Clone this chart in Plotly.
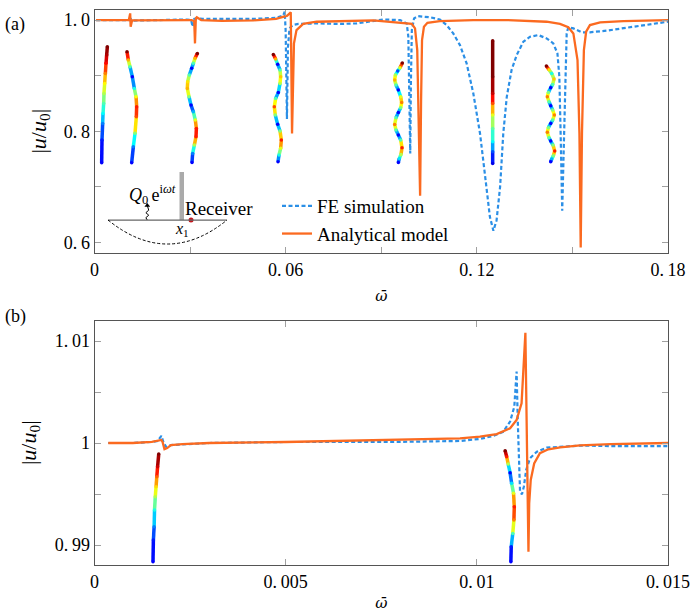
import plotly.graph_objects as go
from plotly.colors import sample_colorscale

# panel (a): frequency sweep
fe_a_x = [0.0005, 0.010, 0.0112, 0.0114, 0.0118, 0.029, 0.0303, 0.0308, 0.0313, 0.032, 0.034, 0.05, 0.057, 0.0592, 0.0597, 0.0600, 0.0604, 0.0607, 0.0612, 0.0622, 0.064, 0.07,
          0.0771, 0.0823, 0.0875, 0.0907, 0.0959, 0.0980, 0.0985, 0.0988, 0.0991, 0.0993, 0.0996, 0.1003, 0.1016, 0.1053, 0.1084, 0.1105, 0.1126, 0.1147, 0.1168, 0.1189, 0.1210,
          0.1225, 0.1241, 0.1252, 0.1262, 0.1273, 0.1283, 0.1294, 0.1309, 0.1325, 0.1346, 0.1367, 0.1393, 0.1419, 0.1440, 0.1453, 0.1459, 0.1463, 0.1468, 0.1474, 0.1479, 0.1482,
          0.1487, 0.1503, 0.1529, 0.1555, 0.1608, 0.1712, 0.1800]
fe_a_y = [1.000, 1.000, 1.000, 1.002, 0.999, 1.001, 1.000, 0.988, 1.002, 1.003, 1.002, 1.002, 1.004, 1.008, 1.015, 0.980, 0.822, 0.950, 0.985, 0.991, 0.993, 0.994,
          0.993, 0.994, 0.999, 1.001, 1.000, 0.994, 0.970, 0.856, 0.760, 0.886, 0.982, 1.003, 1.007, 1.005, 1.001, 0.991, 0.976, 0.955, 0.922, 0.868, 0.796,
          0.724, 0.646, 0.621, 0.640, 0.700, 0.796, 0.862, 0.910, 0.937, 0.961, 0.970, 0.973, 0.967, 0.958, 0.940, 0.898, 0.796, 0.657, 0.796, 0.916, 0.976,
          0.987, 0.985, 0.978, 0.978, 0.981, 0.989, 0.997]
an_a_x = [0.0005, 0.0108, 0.0112, 0.01135, 0.0118, 0.03, 0.0305, 0.0313, 0.03154, 0.0318, 0.0321, 0.0335, 0.04, 0.05, 0.057, 0.0605, 0.0616, 0.0620, 0.0626, 0.0634, 0.0655, 0.0697, 0.0802,
          0.0875, 0.0996, 0.1006, 0.1013, 0.1017, 0.1022, 0.1025, 0.1028, 0.1034, 0.1045, 0.1084, 0.1189, 0.1294, 0.1419, 0.1461, 0.1487, 0.1503, 0.1516, 0.1522, 0.1526, 0.1530,
          0.1536, 0.1543, 0.1555, 0.1587, 0.1660, 0.1800]
an_a_y = [1.000, 1.0005, 1.012, 0.988, 0.9995, 0.9995, 1.000, 0.998, 0.958, 1.003, 1.005, 1.000, 0.9985, 0.9995, 1.002, 1.008, 1.014, 0.796, 0.958, 0.982, 0.993, 0.997, 0.999,
          0.9994, 0.993, 0.985, 0.946, 0.826, 0.684, 0.856, 0.964, 0.988, 0.995, 0.998, 1.000, 1.000, 0.997, 0.993, 0.987, 0.976, 0.928, 0.796, 0.591, 0.796,
          0.946, 0.979, 0.991, 0.996, 0.998, 1.000]

# panel (b): close-up of the first resonances
fe_b_x = [0.00036, 0.001, 0.0015, 0.00165, 0.00175, 0.00181, 0.00188, 0.0020, 0.003, 0.005, 0.0078, 0.00956, 0.01008, 0.01043, 0.01069, 0.01087, 0.01098, 0.01104, 0.01107, 0.0111,
          0.01113, 0.01118, 0.01123, 0.01129, 0.01139, 0.01157, 0.01183, 0.0127, 0.0135, 0.015]
fe_b_y = [1.0000, 1.0000, 1.0001, 1.0002, 1.0007, 1.0000, 0.9996, 0.9998, 1.0000, 1.0001, 1.0001, 1.0002, 1.0004, 1.00069, 1.0011, 1.0021, 1.00356, 1.0070, 1.00225, 0.99833,
          0.99523, 0.99497, 0.99572, 0.99735, 0.9985, 0.99915, 0.99954, 0.99975, 0.9997, 0.9997]
an_b_x = [0.00036, 0.001, 0.0015, 0.00165, 0.00175, 0.00178, 0.00183, 0.0019, 0.0020, 0.0023, 0.003, 0.005, 0.0078, 0.00956, 0.01008, 0.01052, 0.01087, 0.01104, 0.01117, 0.01123,
          0.01127, 0.01129, 0.01132, 0.01135, 0.01137, 0.01141, 0.0115, 0.01165, 0.01187, 0.01218, 0.0127, 0.0135, 0.015]
an_b_y = [1.0000, 1.0000, 1.0001, 1.0002, 1.0003, 1.0001, 0.9994, 0.9995, 0.9998, 0.9999, 1.0000, 1.0001, 1.0003, 1.00046, 1.00062, 1.00088, 1.00144, 1.00225, 1.0039, 1.0081,
          1.0108, 1.0055, 0.9990, 0.98934, 0.9941, 0.99637, 0.9980, 0.9990, 0.99938, 0.99958, 0.99977, 0.9999, 1.0000]

# mode shapes, (x, y, colour value on jet)
mode1_x = [0.00225, 0.00235, 0.00256, 0.00267, 0.00288, 0.00298, 0.00319, 0.00340, 0.00361, 0.00382, 0.00403]
mode1_y = [0.7434, 0.7842, 0.8141, 0.8321, 0.8501, 0.8681, 0.8861, 0.9041, 0.9221, 0.9371, 0.9520]
mode1_c = [0.12, 0.15, 0.25, 0.375, 0.45, 0.55, 0.63, 0.75, 0.87, 0.95, 1.0]
mode2_x = [0.01167, 0.01219, 0.01271, 0.01313, 0.01323, 0.01303, 0.01250, 0.01187, 0.01114, 0.01062, 0.01020]
mode2_y = [0.7434, 0.7722, 0.7962, 0.8261, 0.8441, 0.8621, 0.8771, 0.8981, 0.9161, 0.9281, 0.9430]
mode2_c = [0.125, 0.25, 0.5, 0.8, 0.85, 0.62, 0.4, 0.125, 0.45, 0.7, 1.0]
mode3_x = [0.03228, 0.03155, 0.03102, 0.03050, 0.02976, 0.02924, 0.02914, 0.02966, 0.03029, 0.03102, 0.03165, 0.03197, 0.03186, 0.03134, 0.03081, 0.03060]
mode3_y = [0.9400, 0.9311, 0.9221, 0.9131, 0.9011, 0.8891, 0.8771, 0.8621, 0.8471, 0.8351, 0.8201, 0.8051, 0.7902, 0.7752, 0.7602, 0.7440]
mode3_c = [1.0, 0.7, 0.45, 0.125, 0.45, 0.65, 0.7, 0.5, 0.125, 0.3, 0.6, 0.85, 0.85, 0.55, 0.25, 0.125]
mode4_x = [0.05613, 0.05686, 0.05749, 0.05823, 0.05843, 0.05823, 0.05770, 0.05686, 0.05644, 0.05675, 0.05749, 0.05823, 0.05864, 0.05843, 0.05791, 0.05760]
mode4_y = [0.9382, 0.9299, 0.9203, 0.9101, 0.8981, 0.8861, 0.8699, 0.8591, 0.8441, 0.8291, 0.8124, 0.8004, 0.7842, 0.7692, 0.7572, 0.7452]
mode4_c = [1.0, 0.7, 0.125, 0.45, 0.68, 0.55, 0.125, 0.45, 0.8, 0.5, 0.125, 0.5, 0.85, 0.6, 0.4, 0.125]
mode5_x = [0.09662, 0.09589, 0.09516, 0.09443, 0.09422, 0.09463, 0.09537, 0.09610, 0.09641, 0.09610, 0.09537, 0.09463, 0.09422, 0.09463, 0.09537, 0.09610, 0.09652, 0.09620, 0.09568, 0.09537]
mode5_y = [0.9227, 0.9143, 0.9083, 0.9011, 0.8921, 0.8831, 0.8741, 0.8621, 0.8519, 0.8423, 0.8339, 0.8243, 0.8123, 0.8022, 0.7932, 0.7842, 0.7704, 0.7584, 0.7512, 0.7440]
mode5_c = [1.0, 0.6, 0.2, 0.55, 0.7, 0.45, 0.125, 0.6, 0.75, 0.5, 0.125, 0.45, 0.75, 0.45, 0.125, 0.45, 0.85, 0.55, 0.35, 0.125]
mode6_x = [0.12497, 0.12497, 0.12497, 0.12497, 0.12497, 0.12497, 0.12497, 0.12497, 0.12497]
mode6_y = [0.7422, 0.7632, 0.7812, 0.8051, 0.8291, 0.8501, 0.8681, 0.8981, 0.9628]
mode6_c = [0.1, 0.2, 0.37, 0.47, 0.6, 0.8, 0.93, 1.0, 1.0]
mode7_x = [0.14182, 0.14266, 0.14350, 0.14423, 0.14381, 0.14318, 0.14245, 0.14213, 0.14266, 0.14318, 0.14381, 0.14433, 0.14381, 0.14318, 0.14245, 0.14213, 0.14266, 0.14318, 0.14391, 0.14444, 0.14402, 0.14350, 0.14318]
mode7_y = [0.9173, 0.9107, 0.9041, 0.8939, 0.8843, 0.8783, 0.8699, 0.8621, 0.8531, 0.8459, 0.8381, 0.8291, 0.8201, 0.8141, 0.8064, 0.7980, 0.7884, 0.7824, 0.7752, 0.7644, 0.7560, 0.7500, 0.7452]
mode7_c = [1.0, 0.65, 0.4, 0.68, 0.45, 0.125, 0.5, 0.75, 0.45, 0.125, 0.5, 0.75, 0.45, 0.125, 0.5, 0.75, 0.45, 0.125, 0.5, 0.85, 0.5, 0.3, 0.125]

modeb1_x = [0.00153, 0.00154, 0.00156, 0.00157, 0.00159, 0.00161, 0.00163, 0.00165, 0.00168]
modeb1_y = [0.98837, 0.99049, 0.99180, 0.99343, 0.99474, 0.99572, 0.99670, 0.99768, 0.99892]
modeb1_c = [0.125, 0.15, 0.25, 0.4, 0.55, 0.66, 0.78, 0.92, 1.0]
modeb2_x = [0.01074, 0.01078, 0.01082, 0.01087, 0.01091, 0.01096, 0.01098, 0.01097, 0.01094, 0.01090, 0.01089]
modeb2_y = [0.99925, 0.99866, 0.99794, 0.99709, 0.99605, 0.99507, 0.99376, 0.99245, 0.99114, 0.98984, 0.98837]
modeb2_c = [1.0, 0.85, 0.55, 0.125, 0.35, 0.6, 0.85, 0.75, 0.45, 0.15, 0.125]

# little sketch of the plate in panel (a)
squiggle_x = [0.01657, 0.01612, 0.01702, 0.01612, 0.01702, 0.01657]
squiggle_y = [0.6403, 0.6445, 0.6490, 0.6535, 0.6580, 0.6665]

BLUE = "#2b8fe6"
ORANGE = "#fb6a20"
FONT = "Liberation Serif"
JET = [[0, "rgb(0,0,143)"], [0.125, "rgb(0,0,255)"], [0.375, "rgb(0,255,255)"],
       [0.625, "rgb(255,255,0)"], [0.875, "rgb(255,0,0)"], [1, "rgb(128,0,0)"]]


def add_mode(fig, xs, ys, cs, xaxis, yaxis, width=3.5):
    # one trace per segment, plotly has no gradient line
    for i in range(len(xs) - 1):
        col = sample_colorscale(JET, (cs[i] + cs[i + 1]) / 2)[0]
        fig.add_trace(go.Scatter(x=xs[i:i + 2], y=ys[i:i + 2], mode="lines", xaxis=xaxis, yaxis=yaxis,
                                 line=dict(color=col, width=width), showlegend=False, hoverinfo="skip"))
    fig.add_trace(go.Scatter(x=xs, y=ys, mode="markers", xaxis=xaxis, yaxis=yaxis, showlegend=False, hoverinfo="skip",
                             marker=dict(size=width, color=cs, colorscale=JET, cmin=0, cmax=1, line=dict(width=0))))


fig = go.Figure()

for xs, ys, cs in [(mode1_x, mode1_y, mode1_c), (mode2_x, mode2_y, mode2_c), (mode3_x, mode3_y, mode3_c),
                   (mode4_x, mode4_y, mode4_c), (mode5_x, mode5_y, mode5_c), (mode6_x, mode6_y, mode6_c),
                   (mode7_x, mode7_y, mode7_c)]:
    add_mode(fig, xs, ys, cs, "x", "y")
for xs, ys, cs in [(modeb1_x, modeb1_y, modeb1_c), (modeb2_x, modeb2_y, modeb2_c)]:
    add_mode(fig, xs, ys, cs, "x2", "y2")

fig.add_trace(go.Scatter(x=fe_a_x, y=fe_a_y, mode="lines", name="FE simulation",
                         line=dict(color=BLUE, width=2.2, dash="4px,2.5px")))
fig.add_trace(go.Scatter(x=an_a_x, y=an_a_y, mode="lines", name="Analytical model",
                         line=dict(color=ORANGE, width=2.3)))
fig.add_trace(go.Scatter(x=fe_b_x, y=fe_b_y, mode="lines", xaxis="x2", yaxis="y2", showlegend=False,
                         line=dict(color=BLUE, width=2.2, dash="4px,2.5px")))
fig.add_trace(go.Scatter(x=an_b_x, y=an_b_y, mode="lines", xaxis="x2", yaxis="y2", showlegend=False,
                         line=dict(color=ORANGE, width=2.3)))

# sketch
fig.add_trace(go.Scatter(x=squiggle_x, y=squiggle_y, mode="lines", showlegend=False, hoverinfo="skip",
                         line=dict(color="black", width=1)))
fig.add_trace(go.Scatter(x=[0.01657], y=[0.6665], mode="markers", showlegend=False, hoverinfo="skip",
                         marker=dict(symbol="triangle-up", size=5, color="black")))
fig.add_trace(go.Scatter(x=[0.03029], y=[0.6403], mode="markers", showlegend=False, hoverinfo="skip",
                         marker=dict(size=5, color="#c4161c")))

fig.add_shape(type="rect", x0=0.02668, x1=0.02809, y0=0.6403, y1=0.7266, xref="x", yref="y",
              fillcolor="#aaaaaa", line=dict(width=0), layer="below")
fig.add_shape(type="line", x0=0.00424, x1=0.04159, y0=0.6403, y1=0.6403, xref="x", yref="y",
              line=dict(color="#666666", width=1.3))
fig.add_shape(type="path", path="M 0.00424 0.6403 Q 0.02291 0.554 0.04159 0.6403", xref="x", yref="y",
              line=dict(color="black", width=1, dash="3px,2px"))

annotations = [
    dict(x=3 / 691, y=1 - 12 / 612, xref="paper", yref="paper", text="(a)", xanchor="left", showarrow=False,
         font=dict(family=FONT, size=18, color="black")),
    dict(x=3 / 691, y=1 - 316 / 612, xref="paper", yref="paper", text="(b)", xanchor="left", showarrow=False,
         font=dict(family=FONT, size=18, color="black")),
    dict(x=0.0391, y=0.6619, xref="x", yref="y", text="Receiver", showarrow=False, font=dict(family=FONT, size=19, color="black")),
    dict(x=0.01805, y=0.6871, xref="x", yref="y", text="<i>Q</i><sub>0 </sub>e<sup>i<i>ωt</i></sup>", showarrow=False,
         font=dict(family=FONT, size=18, color="black")),
    dict(x=0.02746, y=0.6241, xref="x", yref="y", text="<i>x</i><sub>1</sub>", showarrow=False, font=dict(family=FONT, size=16, color="black")),
]

axis_style = dict(ticks="inside", ticklen=6, tickcolor="#a0a0a0", tickwidth=1, showline=True, linecolor="#555555", linewidth=1,
                  mirror="ticks", showgrid=False, zeroline=False, tickfont=dict(family=FONT, size=18, color="black"), tickmode="array",
                  automargin=False)
omega_title = dict(text="<i>ω\u0304</i>", font=dict(family="DejaVu Serif", size=15, color="black"), standoff=11)

fig.update_layout(
    width=691, height=612, margin=dict(l=0, r=0, t=0, b=0), plot_bgcolor="white", paper_bgcolor="white",
    annotations=annotations,
    legend=dict(x=277 / 691, y=1 - 187 / 612, xanchor="left", yanchor="top", bgcolor="rgba(0,0,0,0)",
                font=dict(family=FONT, size=19, color="black")),
    xaxis=dict(axis_style, domain=[94.5 / 691, 668 / 691], range=[0, 0.18], anchor="y",
               tickvals=[0, 0.03, 0.06, 0.09, 0.12, 0.15, 0.18], ticktext=["0", "", "0.\u200906", "", "0.\u200912", "", "0.\u200918"],
               title=omega_title),
    yaxis=dict(axis_style, domain=[(612 - 253) / 612, (612 - 9.5) / 612], range=[0.581, 1.019], anchor="x",
               tickvals=[0.6, 0.7, 0.8, 0.9, 1.0], ticktext=["0.\u20096", "", "0.\u20098", "", "1.\u20090"],
               title=dict(text="|<i>u</i>/<i>u</i><sub>0</sub>|", font=dict(family=FONT, size=22, color="black"), standoff=11)),
    xaxis2=dict(axis_style, domain=[94.5 / 691, 668 / 691], range=[0, 0.015], anchor="y2",
                tickvals=[0, 0.005, 0.01, 0.015], ticktext=["0", "0.\u2009005", "0.\u200901", "0.\u2009015"],
                title=omega_title),
    yaxis2=dict(axis_style, domain=[(612 - 565) / 612, (612 - 320.5) / 612], range=[0.98804, 1.01201], anchor="x2",
                tickvals=[0.99, 0.995, 1, 1.005, 1.01], ticktext=["0.\u200999", "", "1", "", "1.\u200901"],
                title=dict(text="|<i>u</i>/<i>u</i><sub>0</sub>|", font=dict(family=FONT, size=22, color="black"), standoff=12)),
)

fig.write_html("out.html", config=dict(displayModeBar=False), post_script="document.body.style.margin='0';")
